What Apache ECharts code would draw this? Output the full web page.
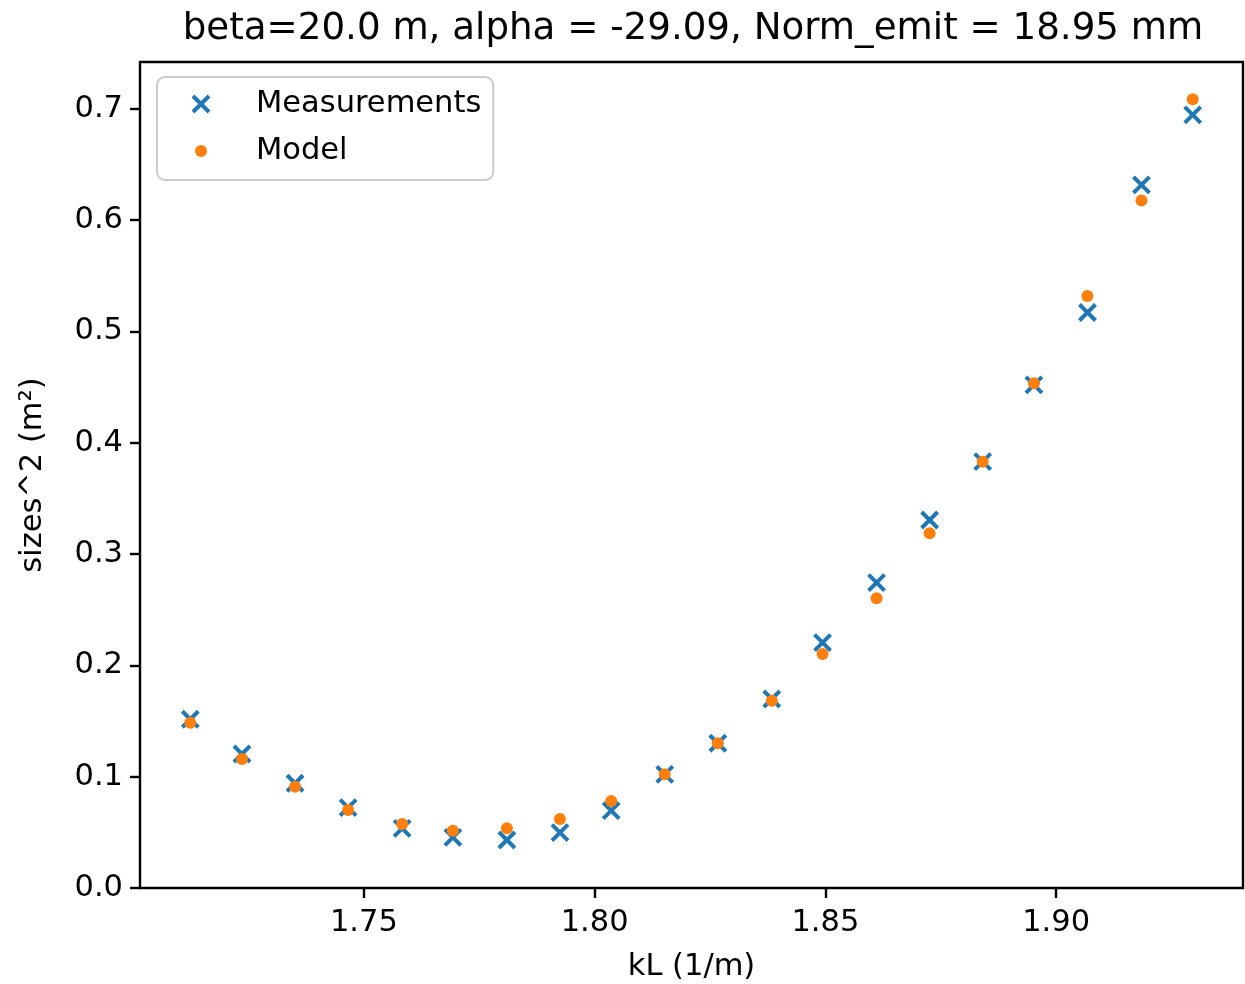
<!DOCTYPE html>
<html><head><meta charset="utf-8">
<script src="https://cdn.jsdelivr.net/npm/echarts@6/dist/echarts.min.js"></script>
<style>html,body{margin:0;padding:0;background:#fff}#c{width:1245px;height:984px}</style>
</head><body><div id="c"></div>
<script>
// kL values (1/m)
const kL = [1.7124, 1.7236, 1.7351, 1.7466, 1.7583, 1.7693, 1.7810, 1.7925, 1.8036, 1.8152,
            1.8267, 1.8384, 1.8494, 1.8611, 1.8726, 1.8841, 1.8952, 1.9068, 1.9185, 1.9296];
// measured sizes^2 (m^2)
const measurements = [0.1516, 0.1204, 0.0941, 0.0722, 0.0536, 0.0455, 0.0431, 0.0497, 0.0695, 0.1021,
                      0.1300, 0.1698, 0.2204, 0.2743, 0.3306, 0.3830, 0.4519, 0.5170, 0.6316, 0.6945];
// model sizes^2 (m^2)
const model = [0.1485, 0.1159, 0.0910, 0.0701, 0.0575, 0.0515, 0.0536, 0.0620, 0.0782, 0.1021,
               0.1300, 0.1683, 0.2102, 0.2603, 0.3187, 0.3830, 0.4534, 0.5319, 0.6175, 0.7086];
const xTicks = [1.75, 1.80, 1.85, 1.90];
const yTicks = [0.0, 0.1, 0.2, 0.3, 0.4, 0.5, 0.6, 0.7];
const titleText = 'beta=20.0 m, alpha = -29.09, Norm_emit = 18.95 mm';

const FONT = 'DejaVu Sans';
const BLUE = '#1f77b4', ORANGE = '#ff7f0e';
const xIcon = 'path://M0,0M20,20M2,2L18,18M18,2L2,18';
const dotIcon = 'path://M0,0M20,20M4,10A6,6,0,1,1,16,10A6,6,0,1,1,4,10Z';

const chart = echarts.init(document.getElementById('c'), null, {renderer: 'canvas'});
chart.setOption({
  animation: false,
  backgroundColor: '#fff',
  title: {
    text: titleText, left: 693, top: 11, padding: 0, textAlign: 'center',
    textStyle: {fontFamily: FONT, fontSize: 37.2, fontWeight: 'normal', color: '#000'}
  },
  grid: {left: 140, right: 2, top: 62, bottom: 96, show: true, borderColor: '#000', borderWidth: 2.4,
         backgroundColor: 'transparent', containLabel: false, outerBoundsMode: 'none'},
  legend: {
    orient: 'vertical', left: 157, top: 77, padding: [9, 12, 11, 32], itemGap: 11,
    itemWidth: 20, itemHeight: 20, selectedMode: false,
    backgroundColor: 'rgba(255,255,255,0.8)', borderColor: '#cccccc', borderWidth: 2, borderRadius: 8,
    textStyle: {fontFamily: FONT, fontSize: 30.5, color: '#000', lineHeight: 36, padding: [0, 0, 0, 40]},
    data: [
      {name: 'Measurements', icon: xIcon, itemStyle: {color: BLUE, borderColor: BLUE, borderWidth: 4}},
      {name: 'Model', icon: dotIcon, itemStyle: {color: ORANGE, borderWidth: 0}}
    ]
  },
  xAxis: {
    type: 'value', min: 1.7015, max: 1.9405,
    name: 'kL (1/m)', nameLocation: 'middle', nameGap: 64,
    nameTextStyle: {fontFamily: FONT, fontSize: 30.5, color: '#000'},
    axisLine: {show: false},
    axisTick: {show: true, customValues: xTicks, length: 10, lineStyle: {color: '#000', width: 2.4}},
    axisLabel: {customValues: xTicks, formatter: v => v.toFixed(2), margin: 20, fontFamily: FONT, fontSize: 30.5, color: '#000'},
    splitLine: {show: false}
  },
  yAxis: {
    type: 'value', min: 0, max: 0.742,
    name: 'sizes^2 (m²)', nameLocation: 'middle', nameGap: 91,
    nameTextStyle: {fontFamily: FONT, fontSize: 30.5, color: '#000'},
    axisLine: {show: false},
    axisTick: {show: true, customValues: yTicks, length: 10, lineStyle: {color: '#000', width: 2.4}},
    axisLabel: {customValues: yTicks, formatter: v => v.toFixed(1), margin: 17, fontFamily: FONT, fontSize: 30.5, color: '#000'},
    splitLine: {show: false}
  },
  series: [
    {
      name: 'Measurements', type: 'scatter',
      data: kL.map((x, i) => [x, measurements[i]]),
      symbol: 'path://M0,0L10,10M10,0L0,10', symbolSize: 16,
      itemStyle: {color: BLUE, borderColor: BLUE, borderWidth: 4, opacity: 1},
      emphasis: {disabled: true}, z: 2
    },
    {
      name: 'Model', type: 'scatter',
      data: kL.map((x, i) => [x, model[i]]),
      symbol: 'circle', symbolSize: 12,
      itemStyle: {color: ORANGE, opacity: 1},
      emphasis: {disabled: true}, z: 3
    }
  ]
});
</script>
</body></html>
